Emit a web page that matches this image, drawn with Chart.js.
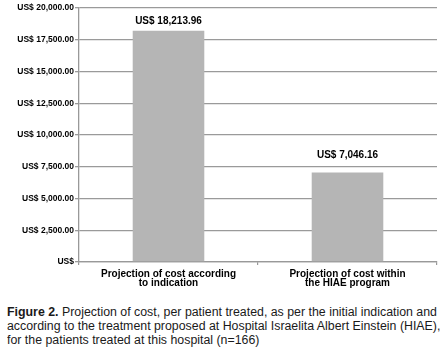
<!DOCTYPE html>
<html>
<head>
<meta charset="utf-8">
<script src="https://cdn.jsdelivr.net/npm/chart.js@4/dist/chart.umd.min.js"></script>
<style>
  html, body { margin: 0; padding: 0; background: #fff; }
  #wrap { position: relative; width: 445px; height: 358px; overflow: hidden; }
  #c { position: absolute; left: 0; top: 0; }
  #caption {
    position: absolute; left: 7px; top: 305px;
    font-family: "Liberation Sans", Arial, sans-serif;
    font-size: 12px; line-height: 14px; color: #1a1a1a;
  }
  #caption .ln { display: block; white-space: nowrap; transform-origin: 0 0; width: max-content; }
  #caption b { font-weight: bold; }
</style>
</head>
<body>
<div id="wrap">
  <canvas id="c" width="445" height="296"></canvas>
  <div id="caption">
    <span class="ln"><b>Figure 2.</b> Projection of cost, per patient treated, as per the initial indication and</span>
    <span class="ln">according to the treatment proposed at Hospital Israelita Albert Einstein (HIAE),</span>
    <span class="ln">for the patients treated at this hospital (n=166)</span>
  </div>
</div>
<script>
const categories = [
  ['Projection of cost according', 'to indication'],
  ['Projection of cost within', 'the HIAE program']
];
const costValues = [18213.96, 7046.16];
const tickValues = [0, 2500, 5000, 7500, 10000, 12500, 15000, 17500, 20000];
const tickLabels = ['US$', 'US$ 2,500.00', 'US$ 5,000.00', 'US$ 7,500.00', 'US$ 10,000.00',
                    'US$ 12,500.00', 'US$ 15,000.00', 'US$ 17,500.00', 'US$ 20,000.00'];

// condense caption text to the reference's narrow typeface width
(function () {
  const lines = document.querySelectorAll('#caption .ln');
  const w = lines[0].getBoundingClientRect().width;
  const s = 430 / w;
  lines.forEach(l => { l.style.transform = 'scaleX(' + s + ')'; });
})();

function fmt(v) {
  return 'US$ ' + v.toLocaleString('en-US', { minimumFractionDigits: 2, maximumFractionDigits: 2 });
}

const valueLabels = {
  id: 'valueLabels',
  afterDatasetsDraw(chart, args, opts) {
    const ctx = chart.ctx;
    const meta = chart.getDatasetMeta(0);
    ctx.save();
    ctx.font = 'bold 10px "Liberation Sans", Arial, sans-serif';
    ctx.fillStyle = '#000';
    ctx.textAlign = 'center';
    ctx.textBaseline = 'middle';
    meta.data.forEach((bar, i) => {
      const off = opts.offsets[i] || 9;
      ctx.fillText(fmt(chart.data.datasets[0].data[i]), bar.x, bar.y - off);
    });
    ctx.restore();
  }
};

new Chart(document.getElementById('c'), {
  type: 'bar',
  data: {
    labels: categories,
    datasets: [{
      data: costValues,
      backgroundColor: '#b5b5b5',
      borderWidth: 0,
      barPercentage: 0.4,
      categoryPercentage: 1.0
    }]
  },
  plugins: [valueLabels],
  options: {
    responsive: false,
    animation: false,
    devicePixelRatio: 1,
    layout: { padding: { top: 8, right: 8, left: 0, bottom: 0 } },
    plugins: {
      legend: { display: false },
      tooltip: { enabled: false },
      valueLabels: { offsets: [9, 17] }
    },
    scales: {
      x: {
        offset: true,
        afterFit(scale) { scale.height = 34; },
        grid: { drawOnChartArea: false, offset: true, tickLength: 3, color: '#999', lineWidth: 1.2 },
        border: { color: '#999', width: 1.3 },
        ticks: {
          color: '#000',
          padding: 4,
          maxRotation: 0,
          autoSkip: false,
          font: { family: '"Liberation Sans", Arial, sans-serif', size: 10, weight: 'bold', lineHeight: 0.95 }
        }
      },
      y: {
        min: 0,
        max: 20000,
        afterFit(scale) { scale.width = 79; },
        afterBuildTicks(scale) { scale.ticks = tickValues.map(v => ({ value: v })); },
        grid: { color: '#9a9a9a', lineWidth: 1.3, tickLength: 4 },
        border: { color: '#999', width: 1.3 },
        ticks: {
          color: '#000',
          padding: 1,
          font: { family: '"Liberation Sans", Arial, sans-serif', size: 8.5, weight: 'bold' },
          callback(value) {
            const idx = tickValues.indexOf(value);
            return idx >= 0 ? tickLabels[idx] : '';
          }
        }
      }
    }
  }
});
</script>
</body>
</html>
